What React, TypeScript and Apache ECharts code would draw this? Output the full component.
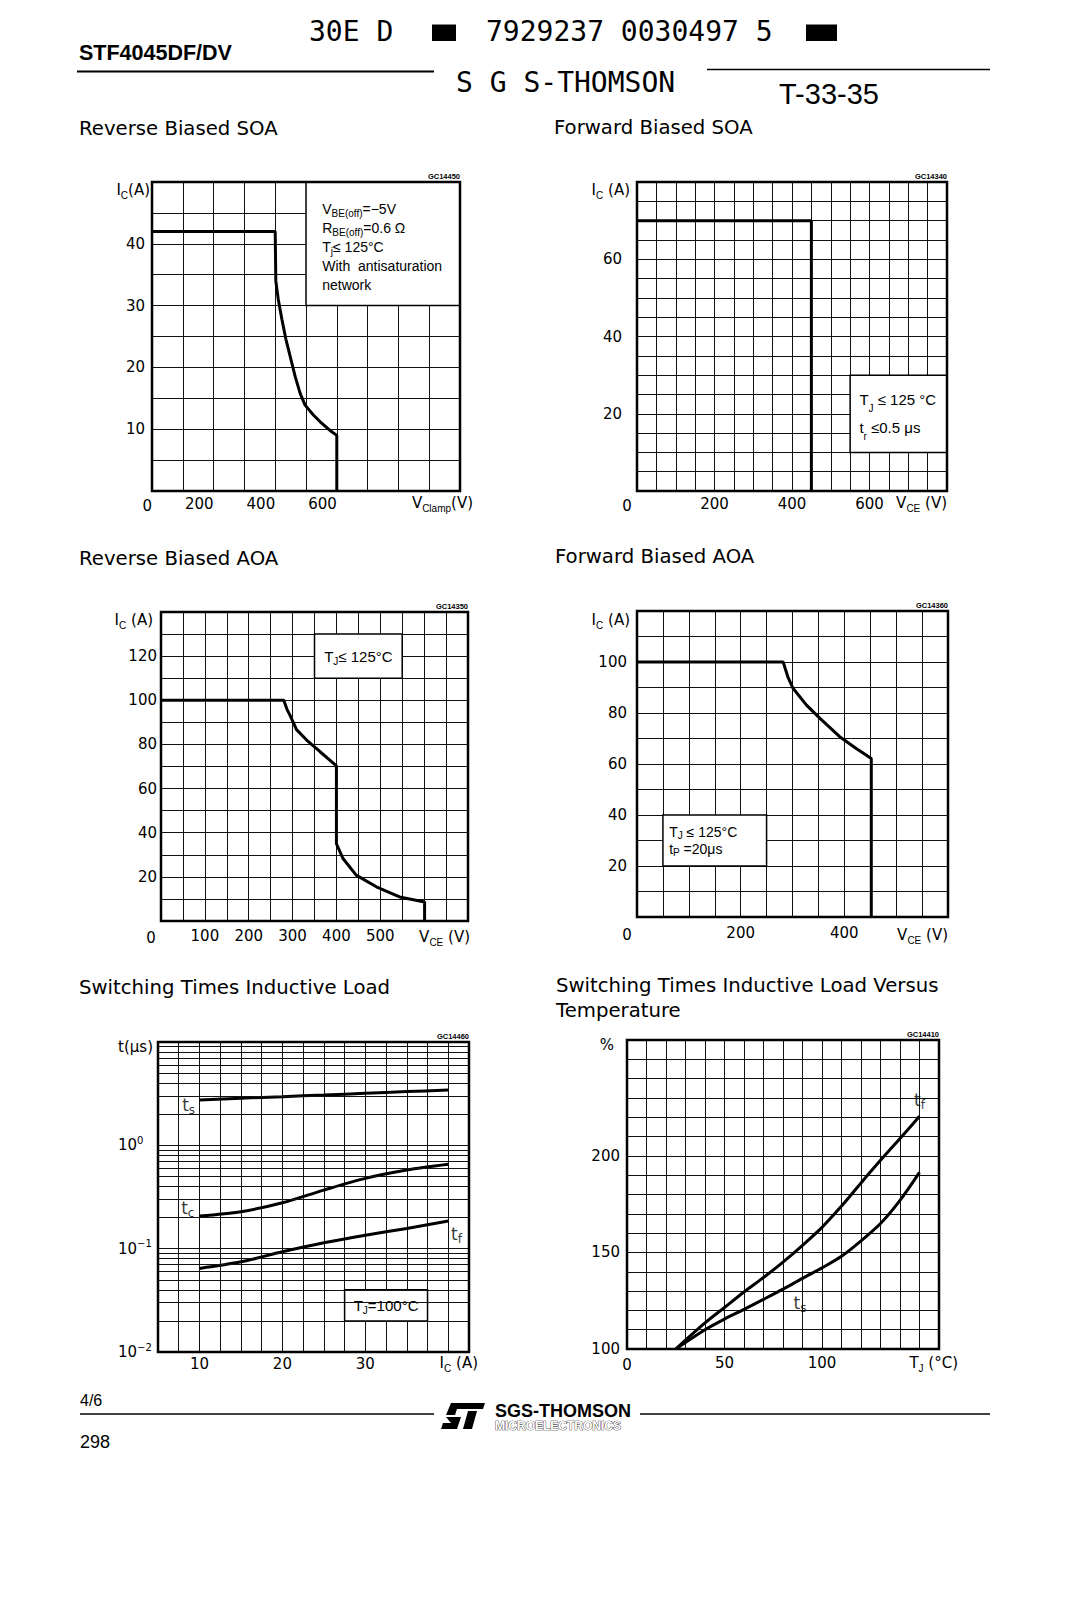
import React, { useEffect, useRef } from 'react';
import * as echarts from 'echarts';

const SANS = 'Liberation Sans';
const DEJ = 'DejaVu Sans';
const MONO = 'DejaVu Sans Mono';

// ---- Reverse Biased SOA ----
const rbsoaV = [0, 400, 402, 410, 422, 435, 449, 465, 481, 497, 524, 546, 578, 600, 600];
const rbsoaI = [42, 42, 34, 31, 27.7, 24.5, 21.7, 18.5, 15.8, 13.9, 12.3, 11.2, 9.8, 9.0, 0];
// ---- Forward Biased SOA ----
const fbsoaV = [0, 450, 450];
const fbsoaI = [70, 70, 0];
// ---- Reverse Biased AOA ----
const rbaoaV = [0, 280, 287, 294, 309, 332, 362, 400, 400, 415, 445, 491, 544, 601, 601];
const rbaoaI = [100, 100, 96, 93.3, 86.7, 82, 76.8, 70.3, 35, 28.3, 20.8, 15.5, 10.9, 8.6, 0];
// ---- Forward Biased AOA ----
const fbaoaV = [0, 282, 291, 301, 327, 353, 391, 423, 452, 452];
const fbaoaI = [100, 100, 94.2, 89.7, 83.1, 77.9, 70.7, 66.1, 62.2, 0];
// ---- Switching times vs Ic ----
const swIc = [10, 15, 20, 25, 30, 35, 40];
const swTs = [2.75, 2.86, 2.96, 3.07, 3.19, 3.31, 3.43];
const swTc = [0.207, 0.228, 0.278, 0.369, 0.479, 0.577, 0.655];
const swTf = [0.0644, 0.0746, 0.0933, 0.114, 0.135, 0.157, 0.185];
const swLogMinor = [0.02, 0.03, 0.04, 0.05, 0.06, 0.07, 0.08, 0.09, 0.2, 0.3, 0.4, 0.5, 0.6, 0.7, 0.8, 0.9, 2, 3, 4, 5, 6, 7, 8, 9];
const swLabelX = [8.7, 8.6, 41.0];
const swLabelY = [2.45, 0.245, 0.14];
const swLabelTxt = ['{m|t}{s|s}', '{m|t}{s|c}', '{m|t}{s|f}'];
// ---- Switching times vs Tj ----
const tjC = [25, 40, 50, 60, 70, 80, 90, 100, 110, 120, 130, 140, 150];
const tjTf = [100, 113.5, 121.5, 129.5, 137, 145, 153.7, 163, 174, 186, 197.7, 209, 220.5];
const tjTs = [100, 110, 115.5, 120.5, 125.7, 131, 136.6, 142, 148, 156, 165, 177, 191.5];
const tjLabelX = [150, 88.7];
const tjLabelY = [229, 124];
const tjLabelTxt = ['{m|t}{s|f}', '{m|t}{s|s}'];

// tick label lists
const x1Ticks = [0, 200, 400, 600];
const y1Ticks = [10, 20, 30, 40];
const x2Ticks = [0, 200, 400, 600];
const y2Ticks = [20, 40, 60];
const x3Ticks = [0, 100, 200, 300, 400, 500];
const y3Ticks = [20, 40, 60, 80, 100, 120];
const x4Ticks = [0, 200, 400];
const y4Ticks = [20, 40, 60, 80, 100];
const x5Ticks = [10, 20, 30];
const x6Ticks = [0, 50, 100];
const y6Ticks = [100, 150, 200];

const pairs = (xs: number[], ys: number[]) => xs.map((x, i) => [x, ys[i]]);
const only = (list: number[]) => (v: number) => {
  if (!list.some((t) => Math.abs(t - v) < 1e-6)) return '';
  return Math.abs(v) < 1e-9 ? '{z|0}' : String(v);
};

const richSet = (size: number, lh: number, fam: string = SANS) => ({
  m: { fontFamily: fam, fontSize: size, color: '#000', lineHeight: lh },
  s: { fontFamily: fam, fontSize: Math.round(size * 0.68), color: '#000', lineHeight: lh - Math.round(size * 0.4), verticalAlign: 'bottom' },
});

const axisRich = {
  m: { fontFamily: DEJ, fontSize: 15, color: '#000', lineHeight: 20 },
  s: { fontFamily: SANS, fontSize: 10, color: '#000', lineHeight: 14, verticalAlign: 'bottom' },
  d: { fontFamily: DEJ, fontSize: 15, color: '#000', lineHeight: 20 },
  sup: { fontFamily: DEJ, fontSize: 10, color: '#000', lineHeight: 10, verticalAlign: 'top' },
  z: { fontFamily: DEJ, fontSize: 15, color: '#000', lineHeight: 20 },
};
const zeroShift = { ...axisRich, z: { ...axisRich.z, padding: [0, 20, 0, 0] } };

function valAxis(gridIndex: number, min: number, max: number, interval: number, fmt: any, margin: number, extra: any = {}) {
  return {
    type: 'value',
    gridIndex,
    min,
    max,
    interval,
    axisLine: { show: false },
    axisTick: { show: false },
    splitLine: { show: true, lineStyle: { color: '#111', width: 1 } },
    axisLabel: {
      formatter: fmt,
      margin,
      fontFamily: DEJ,
      fontSize: 15,
      color: '#000',
      showMinLabel: true,
      showMaxLabel: true,
      rich: axisRich,
      ...extra,
    },
  };
}

const logFmt = (v: number) => {
  const l = Math.log10(v);
  const e = Math.round(l);
  if (Math.abs(l - e) > 1e-6 || e >= 1) return '';
  return '{d|10}{sup|' + (e === 0 ? '0' : '−' + -e) + '}';
};

function box(x0: number, y0: number, x1: number, y1: number, text: string, label: any) {
  return {
    silent: true,
    itemStyle: { color: '#fff', borderColor: '#000', borderWidth: 1.5, opacity: 1 },
    label: { show: true, formatter: text, color: '#000', ...label },
    emphasis: { disabled: true },
    data: [[{ xAxis: x0, yAxis: y0 }, { xAxis: x1, yAxis: y1 }]],
  };
}

const curve = (xi: number, data: number[][], extra: any = {}) => ({
  type: 'line',
  xAxisIndex: xi,
  yAxisIndex: xi,
  data,
  showSymbol: false,
  symbol: 'none',
  silent: true,
  z: 3,
  lineStyle: { color: '#000', width: 3 },
  ...extra,
});

const labelSeries = (xi: number, xs: number[], ys: number[], txt: string[]) => ({
  type: 'scatter',
  xAxisIndex: xi,
  yAxisIndex: xi,
  symbol: 'circle',
  symbolSize: 2,
  silent: true,
  z: 4,
  itemStyle: { color: 'rgba(0,0,0,0)' },
  label: {
    show: true,
    position: 'inside',
    fontSize: 17,
    fontFamily: DEJ,
    color: '#000',
    formatter: (p: any) => txt[p.dataIndex],
    rich: richSet(17, 22, DEJ),
  },
  labelLayout: { hideOverlap: false },
  data: xs.map((x, i) => [x, ys[i]]),
});

const t = (x: number, y: number, text: string, o: any = {}) => ({
  type: 'text',
  x,
  y,
  silent: true,
  z: 20,
  style: { text, fill: '#000', fontFamily: DEJ, fontSize: 15, verticalAlign: 'middle', align: 'left', rich: axisRich, ...o },
});
const ln = (x1: number, y1: number, x2: number, y2: number, w = 1.5) => ({
  type: 'line',
  silent: true,
  shape: { x1, y1, x2, y2 },
  style: { stroke: '#000', lineWidth: w },
});

function buildOption() {
  const gridDefs = [
    { left: 152, top: 182, width: 308, height: 309 },
    { left: 637, top: 182, width: 310, height: 309 },
    { left: 161, top: 612, width: 307, height: 309 },
    { left: 637, top: 611, width: 311, height: 306 },
    { left: 158, top: 1042, width: 311, height: 310 },
    { left: 627, top: 1040, width: 312, height: 309 },
  ];
  const grid = gridDefs.map((g) => ({ ...g, show: true, z: 10, backgroundColor: 'transparent', borderColor: '#000', borderWidth: 2.5 }));

  const xAxis = [
    valAxis(0, 0, 1000, 100, only(x1Ticks), 5, { align: 'right' }),
    valAxis(1, 0, 800, 50, only(x2Ticks), 5, { rich: zeroShift }),
    valAxis(2, 0, 700, 50, only(x3Ticks), 7, { rich: zeroShift }),
    valAxis(3, 0, 600, 50, only(x4Ticks), 8, { rich: zeroShift }),
    valAxis(4, 5, 42.5, 2.5, only(x5Ticks), 4),
    valAxis(5, 0, 160, 10, only(x6Ticks), 6),
  ];
  const yAxis: any[] = [
    valAxis(0, 0, 50, 5, only(y1Ticks), 7),
    valAxis(1, 0, 80, 5, only(y2Ticks), 15),
    valAxis(2, 0, 140, 10, only(y3Ticks), 4),
    valAxis(3, 0, 120, 10, only(y4Ticks), 10),
    {
      type: 'log',
      gridIndex: 4,
      logBase: 10,
      min: 0.01,
      max: 10,
      axisLine: { show: false },
      axisTick: { show: false },
      splitLine: { show: true, lineStyle: { color: '#111', width: 1 } },
      axisLabel: { formatter: logFmt, margin: 40, align: 'left', rich: axisRich, color: '#000', showMinLabel: true, showMaxLabel: true },
    },
    valAxis(5, 100, 260, 10, only(y6Ticks), 7),
  ];

  const series: any[] = [
    curve(0, pairs(rbsoaV, rbsoaI), {
      markArea: box(500, 30, 1000, 50,
        ['{m|V}{s|BE(off)}{m|=−5V}', '{m|R}{s|BE(off)}{m|=0.6 Ω}', '{m|T}{s|j}{m|≤ 125°C}', '{m|With  antisaturation}', '{m|network}'].join('\n'),
        { position: 'insideTopLeft', distance: 0, offset: [17, 18], rich: richSet(14, 19) }),
    }),
    curve(1, pairs(fbsoaV, fbsoaI), {
      markArea: box(550, 10, 800, 30,
        ['{m|T}{s|J}{m| ≤ 125 °C}', '{m|t}{s|r}{m| ≤0.5 μs}'].join('\n'),
        { position: 'insideLeft', distance: 0, offset: [10, 0], rich: richSet(15, 28) }),
    }),
    curve(2, pairs(rbaoaV, rbaoaI), {
      markArea: box(350, 110, 550, 130, '{m|T}{s|J}{m|≤ 125°C}', { position: 'inside', rich: richSet(15, 20) }),
    }),
    curve(3, pairs(fbaoaV, fbaoaI), {
      markArea: box(50, 20, 250, 40,
        ['{m|T}{s|J}{m| ≤ 125°C}', '{m|t}{s|P}{m| =20μs}'].join('\n'),
        { position: 'insideLeft', distance: 0, offset: [7, 0], rich: richSet(14, 17) }),
    }),
    curve(4, pairs(swIc, swTs), {
      smooth: 0.3,
      markLine: {
        silent: true,
        symbol: ['none', 'none'],
        label: { show: false },
        lineStyle: { color: '#111', width: 1, type: 'solid' },
        emphasis: { disabled: true },
        data: swLogMinor.map((v) => ({ yAxis: v })),
      },
      markArea: box(27.5, 0.02, 37.5, 0.04, '{m|T}{s|J}{m|=100°C}', { position: 'inside', rich: richSet(15, 20) }),
    }),
    curve(4, pairs(swIc, swTc), { smooth: 0.3 }),
    curve(4, pairs(swIc, swTf), { smooth: 0.3 }),
    labelSeries(4, swLabelX, swLabelY, swLabelTxt),
    curve(5, pairs(tjC, tjTf), { smooth: 0.3 }),
    curve(5, pairs(tjC, tjTs), { smooth: 0.3 }),
    labelSeries(5, tjLabelX, tjLabelY, tjLabelTxt),
  ];

  const titleStyle = { fontFamily: DEJ, fontSize: 19.7 };
  const codeStyle = { fontFamily: SANS, fontSize: 7.5, fontWeight: 'bold', align: 'right', verticalAlign: 'bottom' };

  const graphic: any[] = [
    // header
    t(79, 53, 'STF4045DF/DV', { fontFamily: SANS, fontSize: 21.5, fontWeight: 'bold' }),
    ln(77, 71.5, 434, 71.5, 2),
    t(309, 31, '30E D', { fontFamily: MONO, fontSize: 28 }),
    { type: 'rect', silent: true, shape: { x: 432, y: 24.5, width: 24, height: 16.5 }, style: { fill: '#000' } },
    t(486, 31, '7929237 0030497 5', { fontFamily: MONO, fontSize: 28 }),
    { type: 'rect', silent: true, shape: { x: 806, y: 24.5, width: 31, height: 16.5 }, style: { fill: '#000' } },
    t(456, 82, 'S G S-THOMSON', { fontFamily: MONO, fontSize: 28 }),
    ln(707, 69.5, 990, 69.5, 1.5),
    t(779, 94, 'T-33-35', { fontFamily: SANS, fontSize: 29 }),
    // titles
    t(79, 128, 'Reverse Biased SOA', titleStyle),
    t(554, 127, 'Forward Biased SOA', titleStyle),
    t(79, 558, 'Reverse Biased AOA', titleStyle),
    t(555, 556, 'Forward Biased AOA', titleStyle),
    t(79, 987, 'Switching Times Inductive Load', titleStyle),
    t(556, 985, 'Switching Times Inductive Load Versus', titleStyle),
    t(556, 1010, 'Temperature', titleStyle),
    // codes
    t(460, 180, 'GC14450', codeStyle),
    t(947, 180, 'GC14340', codeStyle),
    t(468, 610, 'GC14350', codeStyle),
    t(948, 609, 'GC14360', codeStyle),
    t(469, 1040, 'GC14460', codeStyle),
    t(939, 1038, 'GC14410', codeStyle),
    // axis names
    t(150, 190, '{m|I}{s|C}{m|(A)}', { align: 'right' }),
    t(473, 503, '{m|V}{s|Clamp}{m|(V)}', { align: 'right' }),
    t(630, 190, '{m|I}{s|C}{m| (A)}', { align: 'right' }),
    t(947, 503, '{m|V}{s|CE}{m| (V)}', { align: 'right' }),
    t(153, 620, '{m|I}{s|C}{m| (A)}', { align: 'right' }),
    t(470, 937, '{m|V}{s|CE}{m| (V)}', { align: 'right' }),
    t(630, 620, '{m|I}{s|C}{m| (A)}', { align: 'right' }),
    t(948, 935, '{m|V}{s|CE}{m| (V)}', { align: 'right' }),
    t(153, 1047, '{m|t(μs)}', { align: 'right' }),
    t(478, 1363, '{m|I}{s|C}{m| (A)}', { align: 'right' }),
    t(614, 1045, '{m|%}', { align: 'right' }),
    t(958, 1363, '{m|T}{s|J}{m| (°C)}', { align: 'right' }),
    // footer
    t(80, 1400, '4/6', { fontFamily: SANS, fontSize: 16 }),
    ln(80, 1414, 434, 1414, 1.5),
    ln(640, 1414, 990, 1414, 1.5),
    t(80, 1442, '298', { fontFamily: SANS, fontSize: 18 }),
    { type: 'polygon', silent: true, shape: { points: [[451, 1403], [485, 1403], [483, 1409], [457, 1409], [455, 1415], [446, 1415]] }, style: { fill: '#000' } },
    { type: 'polygon', silent: true, shape: { points: [[446, 1417], [461, 1417], [457, 1429], [441, 1429], [443, 1423], [451, 1423]] }, style: { fill: '#000' } },
    { type: 'polygon', silent: true, shape: { points: [[468, 1411], [477, 1411], [472, 1429], [463, 1429]] }, style: { fill: '#000' } },
    t(495, 1411, 'SGS-THOMSON', { fontFamily: SANS, fontSize: 18, fontWeight: 'bold' }),
    t(495, 1426, 'MICROELECTRONICS', { fontFamily: SANS, fontSize: 12, fontWeight: 'bold', fill: '#fff', stroke: '#000', lineWidth: 0.7 }),
  ];

  return {
    animation: false,
    backgroundColor: '#fff',
    grid,
    xAxis,
    yAxis,
    series,
    graphic,
  };
}

export default function App() {
  const ref = useRef<HTMLDivElement>(null);
  useEffect(() => {
    const chart = echarts.init(ref.current as HTMLDivElement, null, { renderer: 'svg' });
    chart.setOption(buildOption() as any);
    return () => chart.dispose();
  }, []);
  return <div ref={ref} style={{ position: 'absolute', left: 0, top: 0, width: 1081, height: 1600, background: '#fff' }} />;
}
